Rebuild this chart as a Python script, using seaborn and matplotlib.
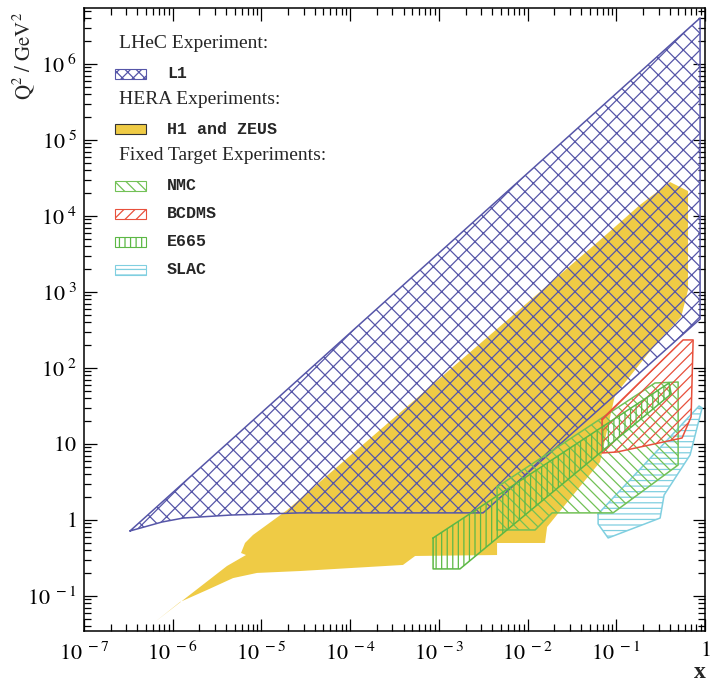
import numpy as np
import matplotlib
matplotlib.use("Agg")
import matplotlib.pyplot as plt
from matplotlib.ticker import FixedLocator, FixedFormatter, LogLocator, NullFormatter
from matplotlib.patches import Rectangle
import seaborn as sns

# Kinematic coverage regions: Bjorken x and Q^2 [GeV^2] along each boundary
l1_x = [3.30e-7, 7.57e-7, 1.31e-6, 4.43e-6, 2.72e-5, 3.15e-3, 0.88, 0.88]
l1_q2 = [0.717, 0.94, 1.06, 1.16, 1.24, 1.24, 441, 4.03e6]

hera_x = [6.3e-7, 4.09e-6, 6.70e-6, 5.89e-6, 6.53e-6, 8.03e-6, 1.95e-5, 0.0656,
          0.185, 0.404, 0.644, 0.644, 0.538, 0.273, 0.0968, 0.0656, 0.0166,
          0.01574, 4.53e-3, 4.53e-3, 5.40e-4, 3.94e-4, 2.72e-5, 8.91e-6,
          4.79e-6, 2.44e-6, 1.21e-6]
hera_q2 = [0.0455, 0.248, 0.346, 0.368, 0.498, 0.635, 1.35, 4830,
           1.40e4, 2.80e4, 2.13e4, 1063, 469, 201, 44.1, 5.80, 0.809,
           0.498, 0.498, 0.346, 0.336, 0.256, 0.213, 0.201,
           0.172, 0.120, 0.0834]

nmc_x = [4.53e-3, 4.53e-3, 0.01216, 0.01888, 0.0920, 0.498, 0.498, 0.273]
nmc_q2 = [2.72, 0.739, 0.739, 1.24, 1.24, 5.29, 65.4, 63.5]

bcdms_x = [0.0692, 0.0692, 0.102, 0.552, 0.697, 0.735, 0.566]
bcdms_q2 = [21.3, 7.62, 7.85, 12.0, 22.7, 234, 234]

e665_x = [8.61e-4, 8.61e-4, 1.73e-3, 0.415, 0.394]
e665_q2 = [0.580, 0.227, 0.227, 45.5, 63.5]

slac_x = [0.0624, 0.0624, 0.0809, 0.312, 0.346, 0.679, 0.927, 0.857]
slac_q2 = [1.20, 0.886, 0.580, 1.06, 2.13, 7.17, 29.8, 31.6]

x_ticks = [1e-7, 1e-6, 1e-5, 1e-4, 1e-3, 1e-2, 1e-1, 1]
x_tick_labels = [r"$10^{\ -7}$", r"$10^{\ -6}$", r"$10^{\ -5}$", r"$10^{\ -4}$",
                 r"$10^{\ -3}$", r"$10^{\ -2}$", r"$10^{\ -1}$", r"$1$"]
y_ticks = [1e-1, 1, 10, 1e2, 1e3, 1e4, 1e5, 1e6]
y_tick_labels = [r"$10^{\ -1}$", r"$1$", r"$10$", r"$10^{\ 2}$", r"$10^{\ 3}$",
                 r"$10^{\ 4}$", r"$10^{\ 5}$", r"$10^{\ 6}$"]

C_L1 = "#5656a8"
C_HERA = "#efcb45"
C_NMC = "#72c156"
C_BCDMS = "#e8503c"
C_E665 = "#5cb845"
C_SLAC = "#80cfe0"

sns.set_theme(style="ticks")
plt.rcParams["font.family"] = ["Liberation Serif", "DejaVu Serif"]
plt.rcParams["mathtext.fontset"] = "stix"
plt.rcParams["hatch.linewidth"] = 0.9
plt.rcParams["axes.edgecolor"] = "black"
plt.rcParams["xtick.color"] = "black"
plt.rcParams["ytick.color"] = "black"

fig = plt.figure(figsize=(7.16, 6.83), dpi=100)
ax = fig.add_axes([84 / 716, 52 / 683, 621 / 716, 623 / 683])
ax.set_xscale("log")
ax.set_yscale("log")
ax.set_xlim(1e-7, 1)
ax.set_ylim(0.0346, 5.46e6)


def region(xs, ys, color, hatch=None, filled=False, z=2):
    if filled:
        ax.fill(xs, ys, facecolor=color, edgecolor="none", lw=0, zorder=z)
    else:
        ax.fill(xs, ys, facecolor="none", edgecolor=color, hatch=hatch, lw=0, zorder=z)
        sns.lineplot(x=list(xs) + [xs[0]], y=list(ys) + [ys[0]], sort=False,
                     estimator=None, color=color, lw=1.1, ax=ax, zorder=z + 0.1)


region(hera_x, hera_q2, C_HERA, filled=True, z=1)
region(l1_x, l1_q2, C_L1, hatch="xx", z=2)
region(slac_x, slac_q2, C_SLAC, hatch="---", z=3)
region(nmc_x, nmc_q2, C_NMC, hatch="\\\\\\", z=4)
region(bcdms_x, bcdms_q2, C_BCDMS, hatch="///", z=5)
region(e665_x, e665_q2, C_E665, hatch="|||", z=6)

ax.set_xlabel("")
ax.set_ylabel("")

# axes, ticks and labels
ax.xaxis.set_major_locator(FixedLocator(x_ticks))
ax.xaxis.set_major_formatter(FixedFormatter(x_tick_labels))
ax.yaxis.set_major_locator(FixedLocator(y_ticks))
ax.yaxis.set_major_formatter(FixedFormatter(y_tick_labels))
ax.xaxis.set_minor_locator(LogLocator(base=10, subs=np.arange(2, 10), numticks=100))
ax.yaxis.set_minor_locator(LogLocator(base=10, subs=np.arange(2, 10), numticks=100))
ax.xaxis.set_minor_formatter(NullFormatter())
ax.yaxis.set_minor_formatter(NullFormatter())
ax.tick_params(which="both", direction="in", top=True, right=True, width=0.9,
               labelsize=16, colors="black")
ax.tick_params(which="major", length=9)
ax.tick_params(which="minor", length=5)
ax.tick_params(axis="x", pad=8)
ax.tick_params(axis="y", pad=5)
for s in ax.spines.values():
    s.set_visible(True)
    s.set_linewidth(1.1)
    s.set_color("black")

fig.text(24 / 716, 1 - 12 / 683, r"$\mathrm{Q^{2}\ /\ GeV^{2}}$", rotation=90,
         ha="center", va="top", fontsize=15)
fig.text(700 / 716, 1 - 672 / 683, "x", ha="center", va="center",
         fontsize=17, fontweight="bold")

# legend block
def ax_pt(px, py):
    return (px - 84) / 621, (631 - py) / 623

header_font = dict(fontsize=14, family="Liberation Serif", ha="left", va="center")
entry_font = dict(fontsize=12, family="Liberation Mono", fontweight="bold",
                  ha="left", va="center")

for txt, py in [("LHeC Experiment:", 43), ("HERA Experiments:", 99),
                ("Fixed Target Experiments:", 155)]:
    ax.text(*ax_pt(119, py), txt, transform=ax.transAxes, **header_font)

entries = [
    ("L1", 74, C_L1, "xxx", False),
    ("H1 and ZEUS", 129, C_HERA, None, True),
    ("NMC", 186, C_NMC, "\\\\\\", False),
    ("BCDMS", 214, C_BCDMS, "///", False),
    ("E665", 242, C_E665, "|||", False),
    ("SLAC", 270, C_SLAC, "---", False),
]
for label, py, color, hatch, filled in entries:
    x0, y0 = ax_pt(115, py + 5)
    w = 31 / 621
    h = 10 / 623
    if filled:
        rect = Rectangle((x0, y0), w, h, transform=ax.transAxes, facecolor=color,
                         edgecolor="#333333", lw=0.8, zorder=10)
    else:
        rect = Rectangle((x0, y0), w, h, transform=ax.transAxes, facecolor="white",
                         edgecolor=color, hatch=hatch, lw=0.8, zorder=10)
    ax.add_patch(rect)
    ax.text(*ax_pt(167, py), label, transform=ax.transAxes, **entry_font)

fig.savefig("out.png", dpi=100)
